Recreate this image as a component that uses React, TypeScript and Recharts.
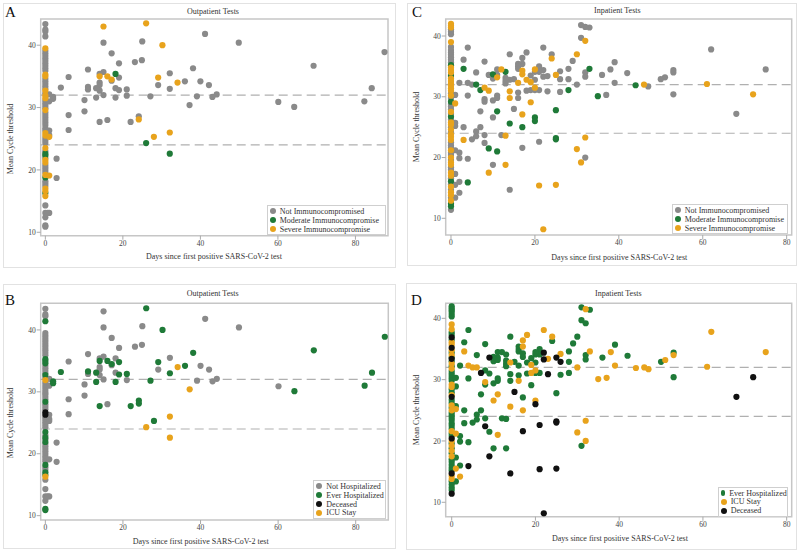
import React from 'react';
import { ScatterChart, Scatter, XAxis, YAxis, ReferenceLine, ReferenceArea } from 'recharts';

const FONT = "'Liberation Serif', 'Times New Roman', serif";

// ---------- categories ----------
const immunoCategories = [
  { code: 'N', name: 'Not Immunocompromised', color: '#8a8a8a' },
  { code: 'M', name: 'Moderate Immunocompromise', color: '#1f7a38' },
  { code: 'S', name: 'Severe Immunocompromise', color: '#e8a31c' },
];
const outHospCategories = [
  { code: 'G', name: 'Not Hospitalized', color: '#8a8a8a' },
  { code: 'H', name: 'Ever Hospitalized', color: '#1f7a38' },
  { code: 'X', name: 'Deceased', color: '#111111' },
  { code: 'I', name: 'ICU Stay', color: '#e8a31c' },
];
const inHospCategories = [
  { code: 'H', name: 'Ever Hospitalized', color: '#1f7a38' },
  { code: 'I', name: 'ICU Stay', color: '#e8a31c' },
  { code: 'X', name: 'Deceased', color: '#111111' },
];

const xTicks = [0, 20, 40, 60, 80];
const yTicks = [10, 20, 30, 40];
const thresholds = [32, 24];

// ---------- outpatient tests: [days, mean Ct, immune status, hospital status] ----------
const outpatientLater: [number, number, string, string][] = [
  [87.5, 38.9, 'N', 'H'], [84.2, 33.1, 'N', 'H'], [82.3, 31.0, 'N', 'H'], [69.2, 36.7, 'N', 'H'],
  [64.2, 30.1, 'N', 'H'], [60.1, 30.9, 'N', 'G'], [49.9, 40.4, 'N', 'G'], [41.2, 41.8, 'N', 'G'],
  [44.2, 32.1, 'N', 'G'], [43.1, 31.7, 'N', 'G'], [42.2, 33.6, 'N', 'G'], [40.0, 34.2, 'N', 'G'],
  [39.1, 31.8, 'N', 'G'], [38.1, 36.3, 'N', 'H'], [37.2, 30.4, 'N', 'I'], [36.0, 34.2, 'N', 'H'],
  [32.1, 35.5, 'N', 'G'], [32.1, 33.0, 'N', 'H'], [29.1, 33.6, 'N', 'G'], [27.1, 31.8, 'N', 'H'],
  [25.0, 40.6, 'N', 'G'], [24.9, 37.6, 'N', 'G'], [24.1, 28.6, 'N', 'H'], [23.1, 37.3, 'N', 'G'],
  [22.0, 27.7, 'N', 'H'], [21.0, 32.9, 'N', 'H'], [21.0, 31.9, 'N', 'G'], [19.0, 37.1, 'N', 'G'],
  [19.0, 34.8, 'N', 'H'], [19.0, 32.8, 'N', 'H'], [18.1, 33.1, 'N', 'G'], [18.1, 31.6, 'N', 'H'],
  [17.1, 38.7, 'N', 'G'], [17.1, 34.3, 'N', 'G'], [15.0, 40.4, 'N', 'G'], [15.0, 35.7, 'N', 'G'],
  [15.0, 32.0, 'N', 'G'], [14.0, 35.4, 'N', 'G'], [14.0, 34.0, 'N', 'G'], [14.0, 33.6, 'N', 'G'],
  [14.0, 32.7, 'N', 'G'], [14.0, 27.7, 'N', 'H'], [16.0, 28.0, 'N', 'G'], [13.1, 31.6, 'N', 'H'],
  [13.1, 33.1, 'N', 'H'], [11.0, 36.1, 'N', 'G'], [11.0, 33.3, 'N', 'H'], [11.0, 32.9, 'N', 'G'],
  [10.1, 31.2, 'N', 'G'], [10.1, 29.4, 'N', 'G'], [6.0, 34.9, 'N', 'G'], [6.0, 28.8, 'N', 'G'],
  [6.0, 26.4, 'N', 'G'], [4.0, 33.2, 'N', 'H'], [2.9, 21.8, 'N', 'G'], [2.9, 18.7, 'N', 'G'],
  [2.0, 31.7, 'N', 'H'], [2.0, 31.4, 'N', 'H'], [1.0, 32.1, 'N', 'G'], [1.0, 31.0, 'N', 'G'],
  [1.0, 26.3, 'N', 'G'], [1.0, 25.6, 'N', 'G'], [1.0, 13.1, 'N', 'G'], [0.6, 13.1, 'N', 'G'],
  [15.0, 43.0, 'S', 'G'], [26.0, 43.5, 'S', 'H'], [30.2, 40.0, 'S', 'H'], [29.1, 34.8, 'S', 'H'],
  [34.1, 34.0, 'S', 'I'], [14.0, 35.0, 'S', 'H'], [16.0, 35.0, 'S', 'H'], [17.1, 34.5, 'S', 'H'],
  [24.1, 28.1, 'S', 'H'], [28.0, 25.3, 'S', 'H'], [32.1, 26.0, 'S', 'I'], [1.0, 25.3, 'S', 'G'],
  [1.0, 19.1, 'S', 'G'], [18.1, 35.4, 'M', 'G'], [26.0, 24.3, 'M', 'I'], [32.1, 22.6, 'M', 'I'],
];

// outpatient tests on day 0: [mean Ct, immune status, hospital status]
const outpatientDay0: [number, string, string][] = [
  [43.4, 'N', 'G'], [42.5, 'N', 'G'], [42.2, 'N', 'G'], [41.4, 'N', 'H'], [39.5, 'S', 'G'],
  [39.1, 'N', 'G'], [38.7, 'N', 'G'], [38.3, 'N', 'G'], [37.9, 'N', 'G'], [37.5, 'N', 'G'],
  [37.1, 'N', 'G'], [36.7, 'N', 'G'], [36.3, 'N', 'G'], [35.9, 'N', 'G'], [35.3, 'S', 'H'],
  [35.0, 'S', 'H'], [34.6, 'N', 'H'], [34.2, 'N', 'G'], [33.8, 'N', 'G'], [33.4, 'N', 'G'],
  [33.0, 'N', 'G'], [32.7, 'S', 'H'], [32.3, 'N', 'G'], [31.9, 'S', 'I'], [31.5, 'S', 'G'],
  [31.1, 'N', 'G'], [30.7, 'N', 'G'], [30.3, 'N', 'G'], [29.9, 'N', 'G'], [29.6, 'S', 'G'],
  [29.2, 'N', 'G'], [28.8, 'N', 'G'], [28.4, 'N', 'H'], [28.0, 'N', 'G'], [27.6, 'N', 'G'],
  [27.2, 'N', 'G'], [26.7, 'N', 'X'], [26.3, 'N', 'X'], [25.9, 'S', 'G'], [25.5, 'S', 'G'],
  [25.1, 'N', 'G'], [24.7, 'N', 'G'], [24.3, 'N', 'G'], [23.5, 'S', 'H'], [23.0, 'N', 'G'],
  [22.6, 'M', 'H'], [22.3, 'M', 'G'], [21.9, 'N', 'H'], [21.6, 'S', 'G'], [21.2, 'S', 'G'],
  [20.8, 'N', 'G'], [20.4, 'N', 'G'], [20.0, 'N', 'G'], [19.6, 'N', 'G'], [19.2, 'S', 'G'],
  [18.8, 'M', 'G'], [18.2, 'N', 'H'], [17.8, 'N', 'G'], [17.4, 'N', 'G'], [17.0, 'S', 'H'],
  [16.6, 'S', 'H'], [16.3, 'M', 'I'], [15.8, 'S', 'G'], [14.3, 'N', 'G'], [13.1, 'N', 'G'],
  [12.4, 'N', 'G'], [11.1, 'N', 'H'], [10.9, 'N', 'H'],
];

// ---------- inpatient tests: [days, mean Ct, immune status, hospital status] ----------
const inpatientLater: [number, number, string, string][] = [
  [75, 34.5, 'N', 'I'], [68, 27.2, 'N', 'X'], [62, 37.8, 'N', 'I'], [53, 30.4, 'N', 'H'],
  [53, 34.4, 'N', 'H'], [53, 34.0, 'N', 'I'], [51, 33.2, 'N', 'I'], [50, 32.9, 'N', 'H'],
  [47, 31.7, 'N', 'I'], [42, 33.9, 'N', 'H'], [39, 35.7, 'N', 'H'], [39, 32.3, 'N', 'I'],
  [38, 34.5, 'N', 'I'], [37, 30.3, 'N', 'I'], [36, 33.6, 'N', 'H'], [33, 41.4, 'N', 'H'],
  [32, 41.5, 'N', 'I'], [31, 41.8, 'N', 'H'], [31, 39.7, 'N', 'H'], [32, 34.0, 'N', 'H'],
  [32, 33.3, 'N', 'H'], [32, 20.0, 'N', 'I'], [30, 32.0, 'N', 'I'], [29, 35.9, 'N', 'H'],
  [28, 34.6, 'N', 'H'], [28, 32.9, 'N', 'H'], [26, 34.2, 'N', 'I'], [26, 32.9, 'N', 'X'],
  [26, 30.8, 'N', 'H'], [24, 37.0, 'N', 'I'], [23, 33.4, 'N', 'I'], [23, 30.9, 'N', 'X'],
  [22, 38.1, 'N', 'I'], [22, 34.4, 'N', 'X'], [22, 33.3, 'N', 'X'], [21, 35.0, 'N', 'H'],
  [21, 34.1, 'N', 'H'], [21, 31.1, 'N', 'H'], [21, 22.6, 'N', 'X'], [20, 34.1, 'N', 'H'],
  [20, 32.8, 'N', 'H'], [20, 31.1, 'N', 'H'], [19, 33.5, 'N', 'H'], [19, 31.1, 'N', 'I'],
  [18, 37.3, 'N', 'I'], [18, 31.0, 'N', 'H'], [17, 36.4, 'N', 'I'], [17, 35.4, 'N', 'I'],
  [17, 21.6, 'N', 'X'], [16, 35.4, 'N', 'H'], [16, 35.0, 'N', 'H'], [16, 34.6, 'N', 'H'],
  [16, 29.8, 'N', 'I'], [16, 30.7, 'N', 'H'], [15, 32.9, 'N', 'H'], [15, 28.0, 'N', 'X'],
  [14, 37.0, 'N', 'H'], [14, 32.8, 'N', 'I'], [14, 14.7, 'N', 'X'], [13, 33.1, 'N', 'H'],
  [13, 32.6, 'N', 'H'], [13, 32.2, 'N', 'H'], [12, 23.7, 'N', 'H'], [11, 34.5, 'N', 'H'],
  [11, 33.6, 'N', 'H'], [11, 30.2, 'N', 'H'], [11, 29.8, 'N', 'H'], [10, 33.0, 'N', 'H'],
  [10, 29.4, 'N', 'H'], [10, 26.6, 'N', 'I'], [10, 18.8, 'N', 'H'], [8, 35.8, 'N', 'H'],
  [9, 33.6, 'N', 'X'], [8, 29.6, 'N', 'I'], [8, 29.2, 'N', 'H'], [8, 23.7, 'N', 'H'],
  [8, 22.4, 'N', 'X'], [7, 25.0, 'N', 'H'], [7, 27.6, 'N', 'H'], [6, 34.0, 'N', 'H'],
  [6, 24.3, 'N', 'H'], [6, 23.5, 'N', 'H'], [5, 32.0, 'N', 'I'], [5, 23.0, 'N', 'H'],
  [4, 38.1, 'N', 'H'], [4, 32.3, 'N', 'I'], [4, 30.2, 'N', 'H'], [4, 19.8, 'N', 'H'],
  [3, 36.1, 'N', 'H'], [3, 25.0, 'N', 'H'], [2, 32.3, 'N', 'H'], [2, 20.8, 'N', 'H'],
  [2, 19.9, 'N', 'H'], [2, 16.0, 'N', 'H'], [2, 14.2, 'N', 'I'], [1, 30.3, 'N', 'H'],
  [1, 25.7, 'N', 'H'], [1, 25.2, 'N', 'I'], [1, 21.2, 'N', 'I'], [1, 17.3, 'N', 'H'],
  [1, 15.5, 'N', 'I'], [1, 13.4, 'N', 'H'],
  [72, 30.4, 'S', 'X'], [61, 32.1, 'S', 'I'], [46, 32.0, 'S', 'I'], [32, 39.2, 'S', 'H'],
  [32, 23.3, 'S', 'I'], [30, 37.0, 'S', 'H'], [30, 21.4, 'S', 'I'], [31, 19.2, 'S', 'H'],
  [25, 33.6, 'S', 'X'], [25, 15.5, 'S', 'X'], [24, 36.3, 'S', 'H'], [21, 15.4, 'S', 'X'],
  [22, 8.2, 'S', 'X'], [20, 34.5, 'S', 'H'], [20, 31.5, 'S', 'I'], [19, 32.4, 'S', 'I'],
  [19, 29.1, 'S', 'H'], [18, 32.8, 'S', 'H'], [17, 34.3, 'S', 'H'], [17, 33.7, 'S', 'H'],
  [17, 27.1, 'S', 'H'], [16, 32.3, 'S', 'H'], [14, 30.9, 'S', 'H'], [14, 29.8, 'S', 'H'],
  [13, 23.6, 'S', 'H'], [13, 18.8, 'S', 'H'], [12, 34.5, 'S', 'H'], [11, 33.2, 'S', 'H'],
  [9, 31.0, 'S', 'H'], [8, 31.5, 'S', 'H'], [9, 17.5, 'S', 'X'], [3, 22.9, 'S', 'H'],
  [1, 28.9, 'S', 'H'],
  [44, 31.9, 'M', 'I'], [35, 30.1, 'M', 'I'], [33, 34.6, 'M', 'I'], [28, 31.1, 'M', 'H'],
  [25, 27.8, 'M', 'H'], [25, 23.2, 'M', 'X'], [25, 23.0, 'M', 'X'], [20, 26.6, 'M', 'I'],
  [20, 26.0, 'M', 'X'], [17, 25.0, 'M', 'I'], [14, 25.6, 'M', 'I'], [13, 34.1, 'M', 'H'],
  [11, 27.6, 'M', 'I'], [11, 21.0, 'M', 'I'], [10, 33.7, 'M', 'H'], [9, 21.5, 'M', 'H'],
  [7, 31.1, 'M', 'X'], [6, 32.0, 'M', 'I'], [3, 34.6, 'M', 'I'], [4, 15.9, 'M', 'X'],
];

// inpatient tests on day 0: [mean Ct, immune status, hospital status]
const inpatientDay0: [number, string, string][] = [
  [42.0, 'S', 'H'], [41.7, 'S', 'H'], [41.4, 'S', 'H'], [41.1, 'N', 'H'], [40.7, 'N', 'H'],
  [40.3, 'N', 'H'], [39.0, 'S', 'I'], [38.2, 'N', 'I'], [37.7, 'N', 'H'], [37.3, 'N', 'H'],
  [36.9, 'N', 'X'], [36.5, 'N', 'H'], [36.1, 'N', 'I'], [35.7, 'N', 'I'], [35.2, 'M', 'X'],
  [34.8, 'S', 'I'], [34.4, 'S', 'H'], [34.0, 'S', 'I'], [33.6, 'N', 'H'], [33.4, 'M', 'X'],
  [33.0, 'S', 'H'], [32.6, 'S', 'I'], [32.2, 'S', 'H'], [31.8, 'S', 'I'], [31.4, 'S', 'H'],
  [31.0, 'S', 'H'], [30.6, 'N', 'H'], [30.2, 'S', 'H'], [29.8, 'N', 'H'], [29.2, 'M', 'I'],
  [28.8, 'N', 'I'], [28.4, 'N', 'H'], [27.9, 'N', 'H'], [27.5, 'S', 'I'], [27.2, 'N', 'X'],
  [26.7, 'M', 'H'], [26.2, 'N', 'H'], [25.8, 'S', 'I'], [25.4, 'S', 'H'], [25.0, 'N', 'I'],
  [24.6, 'S', 'H'], [24.2, 'N', 'H'], [23.8, 'S', 'H'], [23.4, 'S', 'H'], [22.9, 'S', 'H'],
  [22.5, 'N', 'H'], [22.0, 'N', 'H'], [21.6, 'N', 'I'], [21.2, 'S', 'H'], [20.8, 'N', 'H'],
  [20.4, 'N', 'X'], [20.0, 'S', 'I'], [19.6, 'N', 'H'], [19.2, 'S', 'I'], [18.8, 'S', 'H'],
  [18.4, 'N', 'I'], [18.0, 'N', 'H'], [17.5, 'S', 'I'], [17.0, 'S', 'H'], [16.6, 'N', 'H'],
  [16.1, 'M', 'H'], [15.6, 'N', 'H'], [15.2, 'S', 'H'], [14.7, 'N', 'X'], [14.3, 'S', 'I'],
  [13.8, 'S', 'I'], [13.4, 'N', 'H'], [12.9, 'S', 'H'], [12.4, 'M', 'H'], [12.0, 'M', 'H'],
  [11.4, 'N', 'X'],
];

// ---------- helpers ----------
type Pt = { x: number; y: number };
type Cat = { code: string; name: string; color: string };

const allOut = [
  ...outpatientDay0.map(([y, a, b]) => [0, y, a, b] as [number, number, string, string]),
  ...outpatientLater,
];
const allIn = [
  ...inpatientDay0.map(([y, a, b]) => [0, y, a, b] as [number, number, string, string]),
  ...inpatientLater,
];

function buildSeries(rows: [number, number, string, string][], cats: Cat[], idx: 2 | 3) {
  return cats.map((c) => ({
    ...c,
    data: rows.filter((r) => r[idx] === c.code).map((r) => ({ x: r[0], y: r[1] })) as Pt[],
  }));
}

type Box = { x: number; y: number; w: number; h: number };
type Plot = { l: number; t: number; r: number; b: number };

interface PanelProps {
  box: Box;
  plot: Plot;
  xDomain: [number, number];
  yDomain: [number, number];
  title: string;
  letter: string;
  titlePos: [number, number];
  letterPos: [number, number];
  xLabelPos: [number, number];
  yLabelPos: [number, number];
  series: (Cat & { data: Pt[] })[];
  legendBox: { x: number; y: number; w: number };
}

const textStyle: React.CSSProperties = {
  position: 'absolute',
  fontFamily: FONT,
  fontSize: 8,
  color: '#333',
  whiteSpace: 'nowrap',
  lineHeight: '10px',
};

function Centered({ x, y, text, rotate }: { x: number; y: number; text: string; rotate?: boolean }) {
  return (
    <div
      style={{
        ...textStyle,
        left: x,
        top: y,
        transform: `translate(-50%, -50%)${rotate ? ' rotate(-90deg)' : ''}`,
      }}
    >
      {text}
    </div>
  );
}

function Panel(p: PanelProps) {
  const { box, plot } = p;
  const marginTop = plot.t - box.y;
  const marginRight = box.x + box.w - plot.r;
  const yAxisWidth = plot.l - box.x;
  const xAxisHeight = box.y + box.h - plot.b;
  const tickStyle = { fontSize: 7.5, fill: '#444', fontFamily: FONT };
  return (
    <>
      <div
        style={{
          position: 'absolute',
          left: box.x,
          top: box.y,
          width: box.w,
          height: box.h,
          border: '1px solid #e2e2e2',
          boxSizing: 'border-box',
        }}
      />
      <div style={{ position: 'absolute', left: box.x, top: box.y }}>
        <ScatterChart
          width={box.w}
          height={box.h}
          margin={{ top: marginTop, right: marginRight, left: 0, bottom: 0 }}
        >
          <XAxis
            type="number"
            dataKey="x"
            domain={p.xDomain}
            ticks={xTicks}
            allowDataOverflow
            height={xAxisHeight}
            axisLine={false}
            tickLine={{ stroke: '#aaa' }}
            tickSize={4}
            tickMargin={1}
            tick={tickStyle}
            interval={0}
          />
          <YAxis
            type="number"
            dataKey="y"
            domain={p.yDomain}
            ticks={yTicks}
            allowDataOverflow
            width={yAxisWidth}
            axisLine={false}
            tickLine={{ stroke: '#aaa' }}
            tickSize={4}
            tickMargin={1}
            tick={tickStyle}
            interval={0}
          />
          <ReferenceArea
            x1={p.xDomain[0]}
            x2={p.xDomain[1]}
            y1={p.yDomain[0]}
            y2={p.yDomain[1]}
            fill="#ffffff"
            fillOpacity={0}
            stroke="#c6c6c6"
            strokeWidth={1.5}
            ifOverflow="visible"
          />
          {thresholds.map((t) => (
            <ReferenceLine key={t} y={t} stroke="#b0b0b0" strokeWidth={1.2} strokeDasharray="9 5" />
          ))}
          {p.series.map((s) => (
            <Scatter
              key={s.code}
              name={s.name}
              data={s.data}
              fill={s.color}
              isAnimationActive={false}
              shape={(props: any) => <circle cx={props.cx} cy={props.cy} r={3.1} fill={s.color} />}
            />
          ))}
        </ScatterChart>
      </div>
      <div style={{ ...textStyle, left: p.letterPos[0], top: p.letterPos[1], fontSize: 15, color: '#111', lineHeight: '15px' }}>
        {p.letter}
      </div>
      <Centered x={p.titlePos[0]} y={p.titlePos[1]} text={p.title} />
      <Centered x={p.xLabelPos[0]} y={p.xLabelPos[1]} text="Days since first positive SARS-CoV-2 test" />
      <Centered x={p.yLabelPos[0]} y={p.yLabelPos[1]} text="Mean Cycle threshold" rotate />
      <div
        style={{
          position: 'absolute',
          left: p.legendBox.x,
          top: p.legendBox.y,
          width: p.legendBox.w,
          background: '#fff',
          border: '1px solid #cfcfcf',
          boxSizing: 'border-box',
          padding: '1px 0 1px 0',
        }}
      >
        {p.series.map((s) => (
          <div key={s.code} style={{ display: 'flex', alignItems: 'center', height: 8.8 }}>
            <span
              style={{
                display: 'inline-block',
                width: 6,
                height: 6,
                borderRadius: 3,
                background: s.color,
                marginLeft: 2,
                marginRight: 4,
              }}
            />
            <span style={{ fontFamily: FONT, fontSize: 8, color: '#333', whiteSpace: 'nowrap' }}>{s.name}</span>
          </div>
        ))}
      </div>
    </>
  );
}

export default function App() {
  const seriesA = buildSeries(allOut, immunoCategories, 2);
  const seriesB = buildSeries(allOut, outHospCategories, 3);
  const seriesC = buildSeries(allIn, immunoCategories, 2);
  const seriesD = buildSeries(allIn, inHospCategories, 3);
  return (
    <div style={{ position: 'absolute', left: 0, top: 0, width: 800, height: 553, background: '#fff' }}>
      <Panel
        box={{ x: 3, y: 3, w: 393, h: 265 }}
        plot={{ l: 40.7, t: 19, r: 388, b: 235.7 }}
        xDomain={[-1.2, 88.4]}
        yDomain={[9.45, 44.2]}
        title="Outpatient Tests"
        letter="A"
        titlePos={[213, 11.7]}
        letterPos={[5, 5]}
        xLabelPos={[214, 256.7]}
        yLabelPos={[11, 139]}
        series={seriesA}
        legendBox={{ x: 266.7, y: 205, w: 119 }}
      />
      <Panel
        box={{ x: 407, y: 3, w: 390, h: 263 }}
        plot={{ l: 445.7, t: 19, r: 791.7, b: 235 }}
        xDomain={[-1.26, 81.2]}
        yDomain={[7.25, 42.8]}
        title="Inpatient Tests"
        letter="C"
        titlePos={[617.3, 10.7]}
        letterPos={[412, 5]}
        xLabelPos={[619.3, 257.7]}
        yLabelPos={[416.7, 127]}
        series={seriesC}
        legendBox={{ x: 671.7, y: 204, w: 116 }}
      />
      <Panel
        box={{ x: 3, y: 284, w: 393, h: 265 }}
        plot={{ l: 40.7, t: 303.3, r: 388.3, b: 520 }}
        xDomain={[-1.2, 88.4]}
        yDomain={[9.3, 44.3]}
        title="Outpatient Tests"
        letter="B"
        titlePos={[212.7, 294]}
        letterPos={[5, 293]}
        xLabelPos={[200.7, 541.7]}
        yLabelPos={[11, 423]}
        series={seriesB}
        legendBox={{ x: 313.3, y: 480, w: 72.4 }}
      />
      <Panel
        box={{ x: 406, y: 283, w: 391, h: 267 }}
        plot={{ l: 445.7, t: 303.3, r: 791.7, b: 516.7 }}
        xDomain={[-1.43, 81.2]}
        yDomain={[7.65, 42.45]}
        title="Inpatient Tests"
        letter="D"
        titlePos={[618.3, 294]}
        letterPos={[411, 293]}
        xLabelPos={[620, 539.3]}
        yLabelPos={[416.7, 410]}
        series={seriesD}
        legendBox={{ x: 717.7, y: 486.7, w: 70 }}
      />
    </div>
  );
}
